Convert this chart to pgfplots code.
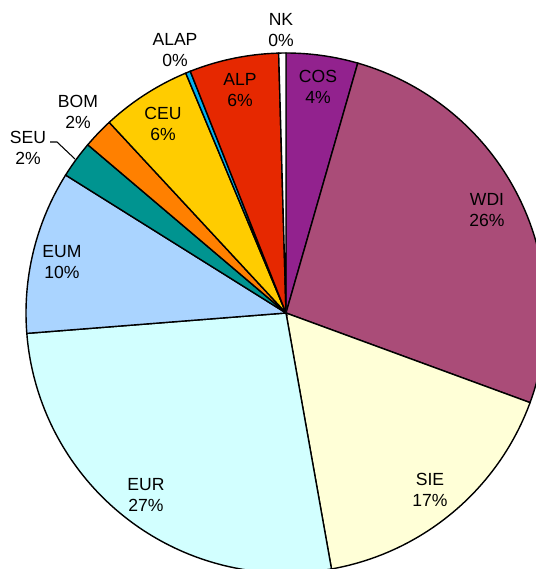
\documentclass[border=0pt]{standalone}
\usepackage{pgfplots}
\pgfplotsset{compat=1.18}
\usepackage{pgfplotstable}
\usepackage{fontspec}
\setmainfont{Liberation Sans}

\definecolor{c0}{RGB}{146,34,142}  % COS
\definecolor{c1}{RGB}{170,76,120}  % WDI
\definecolor{c2}{RGB}{255,255,215} % SIE
\definecolor{c3}{RGB}{210,255,255} % EUR
\definecolor{c4}{RGB}{170,212,255} % EUM
\definecolor{c5}{RGB}{0,148,144}   % SEU
\definecolor{c6}{RGB}{255,128,0}   % BOM
\definecolor{c7}{RGB}{255,204,0}   % CEU
\definecolor{c8}{RGB}{0,176,240}   % ALAP
\definecolor{c9}{RGB}{230,40,0}    % ALP
\definecolor{c10}{RGB}{255,255,255}% NK

\pgfplotstableread{
name value
COS 4.45
WDI 26.15
SIE 16.6
EUR 26.55
EUM 10.15
SEU 2.3
BOM 1.9
CEU 5.6
ALAP 0.3
ALP 5.55
NK 0.45
}\piedata

\begin{document}
\begin{tikzpicture}
\begin{axis}[name=pie, hide axis, scale only axis, width=10.72cm, height=11.38cm,
  xmin=-286, xmax=250, ymin=-256, ymax=313, clip=true]
\def\cum{0}
\pgfplotsforeachungrouped \i in {0,...,10}{%
  \pgfplotstablegetelem{\i}{value}\of\piedata
  \pgfmathsetmacro{\vv}{\pgfplotsretval}%
  \pgfmathsetmacro{\angA}{90-3.6*(\cum+\vv)}%
  \pgfmathsetmacro{\angB}{90-3.6*\cum}%
  \edef\cmd{\noexpand\addplot[draw=black, line width=0.8pt, fill=c\i, domain=\angA:\angB, samples=90, variable=\noexpand\t] ({260*cos(\noexpand\t)},{260*sin(\noexpand\t)}) -- (axis cs:0,0) -- cycle;}%
  \cmd
  \pgfmathsetmacro{\cum}{\cum+\vv}%
}
\addplot[black, line width=0.6pt] coordinates {(-236,171) (-229,171) (-211,154)};
\begin{scope}[every node/.style={align=center, font=\fontsize{10}{12}\selectfont, inner sep=0pt}]
\node at (axis cs:32,226) {COS\\4\%};
\node at (axis cs:201,103) {WDI\\26\%};
\node at (axis cs:144,-177) {SIE\\17\%};
\node at (axis cs:-140,-182) {EUR\\27\%};
\node at (axis cs:-224,51) {EUM\\10\%};
\node at (axis cs:-123,189) {CEU\\6\%};
\node at (axis cs:-46,223) {ALP\\6\%};
\node at (axis cs:-5,283) {NK\\0\%};
\node at (axis cs:-111,263) {ALAP\\0\%};
\node at (axis cs:-208,201) {BOM\\2\%};
\node at (axis cs:-258,165) {SEU\\2\%};
\end{scope}
\end{axis}
\pgfresetboundingbox
\path[use as bounding box] (pie.south west) rectangle (pie.north east);
\end{tikzpicture}
\end{document}
